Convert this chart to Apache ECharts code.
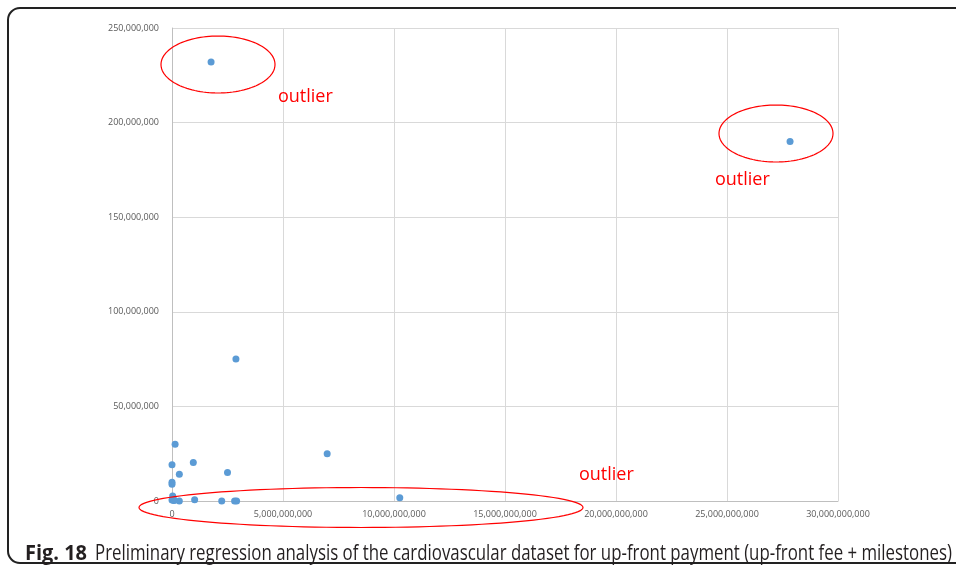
<!DOCTYPE html>
<html><head><meta charset="utf-8">
<script src="https://cdn.jsdelivr.net/npm/echarts@6/dist/echarts.min.js"></script>
<style>html,body{margin:0;padding:0;background:#fff}#c{width:956px;height:566px}</style>
</head><body><div id="c"></div>
<script>
// Data: [up-front payment (x), y value]
const xValues = [1.76e9, 27.84e9, 2.88e9, 6.99e9, 10.26e9,
  0.14e9, 0.0e9, 0.96e9, 0.33e9, 2.5e9, 0.0e9, 0.0e9,
  0.03e9, 0.0e9, 0.08e9, 0.33e9, 1.02e9, 2.24e9, 2.82e9, 2.91e9, 0.05e9, 0.1e9];
const yValues = [232e6, 190e6, 75e6, 25e6, 1.7e6,
  30e6, 19.2e6, 20.3e6, 14.1e6, 15e6, 9.9e6, 8.8e6,
  2.6e6, 0.5e6, 0.2e6, 0.0e6, 0.7e6, 0.0e6, 0.0e6, 0.0e6, 1.2e6, 0.4e6];
const xTicks = { min: 0, max: 30e9, interval: 5e9 };
const yTicks = { min: 0, max: 250e6, interval: 50e6 };
const annotationText = 'outlier';
const captionBold = 'Fig. 18';
const captionRest = 'Preliminary regression analysis of the cardiovascular dataset for up-front payment (up-front fee + milestones)';

const points = xValues.map((x, i) => [x, yValues[i]]);
const fmt = v => Number(v).toLocaleString('en-US');

function ellipsePts(cx, cy, rx, ry) {
  const p = [];
  for (let i = 0; i < 120; i++) {
    const t = i / 120 * Math.PI * 2;
    p.push([cx + rx * Math.cos(t), cy + ry * Math.sin(t)]);
  }
  return p;
}
function measure(text, font) {
  const c = document.createElement('canvas').getContext('2d');
  c.font = font;
  return c.measureText(text).width;
}
const capFontB = 'bold 21px "Open Sans"';
const capFont = '21px "Open Sans"';
const sB = 62 / measure(captionBold, capFontB);
const sR = 857 / measure(captionRest, capFont);

const chart = echarts.init(document.getElementById('c'), null, { renderer: 'canvas' });
const redText = (x, y) => ({
  type: 'text', x: x, y: y,
  style: { text: annotationText, font: '18px "Open Sans"', fill: '#ff0000', textVerticalAlign: 'bottom', verticalAlign: 'bottom' },
  z: 100
});
const ell = (cx, cy, rx, ry) => ({
  type: 'polygon', shape: { points: ellipsePts(cx, cy, rx, ry) },
  style: { fill: 'none', stroke: '#ff0000', lineWidth: 1.2 }, z: 100
});
chart.setOption({
  animation: false,
  backgroundColor: '#fff',
  grid: { left: 172, top: 28, right: 118, bottom: 65, containLabel: false },
  xAxis: {
    type: 'value', min: xTicks.min, max: xTicks.max, interval: xTicks.interval,
    axisLine: { show: true, onZero: false, lineStyle: { color: '#bfbfbf', width: 1 } },
    axisTick: { show: false },
    axisLabel: { formatter: fmt, color: '#595959', fontSize: 9, fontFamily: 'Open Sans', margin: 9 },
    splitLine: { show: true, lineStyle: { color: '#d9d9d9', width: 1 } }
  },
  yAxis: {
    type: 'value', min: yTicks.min, max: yTicks.max, interval: yTicks.interval,
    axisLine: { show: true, onZero: false, lineStyle: { color: '#bfbfbf', width: 1 } },
    axisTick: { show: false },
    axisLabel: { formatter: fmt, color: '#595959', fontSize: 9, fontFamily: 'Open Sans', margin: 13 },
    splitLine: { show: true, lineStyle: { color: '#d9d9d9', width: 1 } }
  },
  series: [{
    type: 'scatter', data: points, symbol: 'circle', symbolSize: 7,
    itemStyle: { color: '#5b9bd5', opacity: 1 }
  }],
  graphic: [
    { type: 'rect', shape: { x: 8, y: 8, width: 970, height: 555, r: 12 },
      style: { fill: 'none', stroke: '#222', lineWidth: 2 }, z: 100 },
    ell(218, 64.5, 57, 28.5),
    ell(776, 133.5, 57, 28.5),
    ell(361, 507.5, 222, 20),
    redText(278, 106),
    redText(715, 189),
    redText(579, 484),
    { type: 'text', x: 25, y: 565, scaleX: sB,
      style: { text: captionBold, font: capFontB, fill: '#231f20', textVerticalAlign: 'bottom', verticalAlign: 'bottom' }, z: 100 },
    { type: 'text', x: 95, y: 565, scaleX: sR,
      style: { text: captionRest, font: capFont, fill: '#231f20', textVerticalAlign: 'bottom', verticalAlign: 'bottom' }, z: 100 }
  ]
});
</script></body></html>
